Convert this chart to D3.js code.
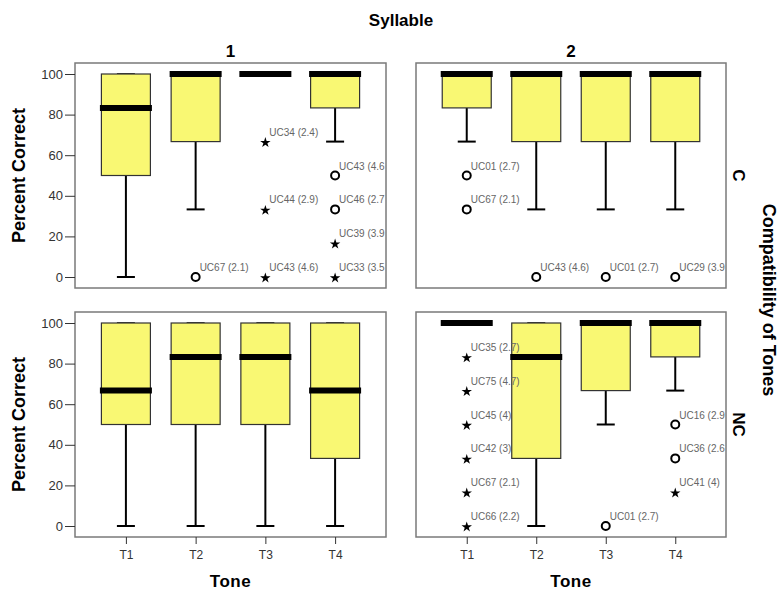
<!DOCTYPE html>
<html>
<head>
<meta charset="utf-8">
<script src="https://cdn.jsdelivr.net/npm/d3@7"></script>
<style>
  body { margin: 0; background: #fff; }
  text { font-family: Arial, "Liberation Sans", sans-serif; }
</style>
</head>
<body>
<div id="chart"></div>
<script>
// data
var tones = ["T1", "T2", "T3", "T4"]
var syllables = ["1", "2"]
var compat = ["C", "NC"]

// [low whisker, q1, median, q3, high whisker] for T1..T4
var box1C = [[0, 50, 83.3, 100, 100], [33.3, 66.7, 100, 100, 100], [100, 100, 100, 100, 100], [66.7, 83.3, 100, 100, 100]]
var box2C = [[66.7, 83.3, 100, 100, 100], [33.3, 66.7, 100, 100, 100], [33.3, 66.7, 100, 100, 100], [33.3, 66.7, 100, 100, 100]]
var box1NC = [[0, 50, 66.7, 100, 100], [0, 50, 83.3, 100, 100], [0, 50, 83.3, 100, 100], [0, 33.3, 66.7, 100, 100]]
var box2NC = [[100, 100, 100, 100, 100], [0, 33.3, 83.3, 100, 100], [50, 66.7, 100, 100, 100], [66.7, 83.3, 100, 100, 100]]

// outliers: [tone, value, label, kind]  (o = circle, * = extreme)
var out1C = [["T2", 0, "UC67 (2.1)", "o"], ["T3", 66.7, "UC34 (2.4)", "*"], ["T3", 33.3, "UC44 (2.9)", "*"],
  ["T3", 0, "UC43 (4.6)", "*"], ["T4", 50, "UC43 (4.6", "o"], ["T4", 33.3, "UC46 (2.7", "o"],
  ["T4", 16.7, "UC39 (3.9", "*"], ["T4", 0, "UC33 (3.5", "*"]]
var out2C = [["T1", 50, "UC01 (2.7)", "o"], ["T1", 33.3, "UC67 (2.1)", "o"], ["T2", 0, "UC43 (4.6)", "o"],
  ["T3", 0, "UC01 (2.7)", "o"], ["T4", 0, "UC29 (3.9", "o"]]
var out1NC = []
var out2NC = [["T1", 83.3, "UC35 (2.7)", "*"], ["T1", 66.7, "UC75 (4.7)", "*"], ["T1", 50, "UC45 (4)", "*"],
  ["T1", 33.3, "UC42 (3)", "*"], ["T1", 16.7, "UC67 (2.1)", "*"], ["T1", 0, "UC66 (2.2)", "*"],
  ["T3", 0, "UC01 (2.7)", "o"], ["T4", 50, "UC16 (2.9", "o"], ["T4", 33.3, "UC36 (2.6", "o"],
  ["T4", 16.7, "UC41 (4)", "*"]]

var yTicks = [0, 20, 40, 60, 80, 100]

var panels = [
  { row: 0, col: 0, box: box1C, out: out1C },
  { row: 0, col: 1, box: box2C, out: out2C },
  { row: 1, col: 0, box: box1NC, out: out1NC },
  { row: 1, col: 1, box: box2NC, out: out2NC }
]

var W = 779, H = 592
var colX = [[75, 386], [416, 726]]
var rowY = [[63, 288], [312, 537]]
var fill = "#f9f873"

var svg = d3.select("#chart").append("svg")
  .attr("width", W)
  .attr("height", H)

svg.append("text")
  .attr("x", 401).attr("y", 26)
  .attr("text-anchor", "middle")
  .attr("font-weight", "bold").attr("font-size", 17)
  .text("Syllable")

syllables.forEach(function (s, i) {
  svg.append("text")
    .attr("x", (colX[i][0] + colX[i][1]) / 2).attr("y", 57)
    .attr("text-anchor", "middle")
    .attr("font-weight", "bold").attr("font-size", 17)
    .text(s)
  svg.append("text")
    .attr("x", (colX[i][0] + colX[i][1]) / 2).attr("y", 587)
    .attr("text-anchor", "middle")
    .attr("font-weight", "bold").attr("font-size", 17)
    .attr("letter-spacing", 0.5)
    .text("Tone")
})

compat.forEach(function (c, j) {
  var cy = (rowY[j][0] + rowY[j][1]) / 2
  svg.append("text")
    .attr("transform", "translate(733," + cy + ") rotate(90)")
    .attr("text-anchor", "middle")
    .attr("font-weight", "bold").attr("font-size", 17)
    .text(c)
  svg.append("text")
    .attr("transform", "translate(25," + cy + ") rotate(-90)")
    .attr("text-anchor", "middle")
    .attr("font-weight", "bold").attr("font-size", 18)
    .text("Percent Correct")
})

svg.append("text")
  .attr("transform", "translate(763,300) rotate(90)")
  .attr("text-anchor", "middle")
  .attr("font-weight", "bold").attr("font-size", 18)
  .text("Compatibility of Tones")

panels.forEach(function (p, k) {
  var x0 = colX[p.col][0], x1 = colX[p.col][1]
  var y0 = rowY[p.row][0], y1 = rowY[p.row][1]

  var x = d3.scalePoint().domain(tones).range([x0, x1]).padding(0.73)
  var y = d3.scaleLinear().domain([0, 100]).range([y1 - 11, y0 + 11])

  var g = svg.append("g")

  g.append("clipPath").attr("id", "clip" + k)
    .append("rect")
    .attr("x", x0).attr("y", y0)
    .attr("width", x1 - x0).attr("height", y1 - y0)

  var inner = g.append("g").attr("clip-path", "url(#clip" + k + ")")

  tones.forEach(function (t, i) {
    var b = p.box[i]
    var cx = x(t)
    var bw = 49, cap = 18
    var gg = inner.append("g")

    // whiskers
    gg.append("line")
      .attr("x1", cx).attr("x2", cx)
      .attr("y1", y(b[0])).attr("y2", y(b[1]))
      .attr("stroke", "#000").attr("stroke-width", 2)
    gg.append("line")
      .attr("x1", cx - cap / 2).attr("x2", cx + cap / 2)
      .attr("y1", y(b[0])).attr("y2", y(b[0]))
      .attr("stroke", "#000").attr("stroke-width", 2)
    gg.append("line")
      .attr("x1", cx).attr("x2", cx)
      .attr("y1", y(b[4])).attr("y2", y(b[3]))
      .attr("stroke", "#000").attr("stroke-width", 2)
    gg.append("line")
      .attr("x1", cx - cap / 2).attr("x2", cx + cap / 2)
      .attr("y1", y(b[4])).attr("y2", y(b[4]))
      .attr("stroke", "#000").attr("stroke-width", 1.5)

    // box
    if (b[3] > b[1]) {
      gg.append("rect")
        .attr("x", cx - bw / 2).attr("y", y(b[3]))
        .attr("width", bw).attr("height", y(b[1]) - y(b[3]))
        .attr("fill", fill).attr("stroke", "#333").attr("stroke-width", 1.2)
    }
    // median
    gg.append("line")
      .attr("x1", cx - 26).attr("x2", cx + 26)
      .attr("y1", y(b[2])).attr("y2", y(b[2]))
      .attr("stroke", "#000").attr("stroke-width", 6)
  })

  // outliers, drawn over the boxes
  p.out.forEach(function (o) {
    var cx = x(o[0]), oy = y(o[1])
    if (o[3] == "o") {
      inner.append("circle")
        .attr("cx", cx).attr("cy", oy).attr("r", 4)
        .attr("fill", "#fff").attr("stroke", "#000").attr("stroke-width", 2)
    } else {
      inner.append("path")
        .attr("transform", "translate(" + cx + "," + (oy + 1) + ")")
        .attr("d", d3.symbol().type(d3.symbolStar).size(34)())
        .attr("fill", "#000")
    }
    inner.append("text")
      .attr("x", cx + 4).attr("y", oy - 6)
      .attr("font-size", 10).attr("fill", "#666")
      .text(o[2])
  })

  // frame
  g.append("rect")
    .attr("x", x0).attr("y", y0)
    .attr("width", x1 - x0).attr("height", y1 - y0)
    .attr("fill", "none").attr("stroke", "#7a7a7a").attr("stroke-width", 1.5)

  if (p.col == 0) {
    var ya = g.append("g")
      .attr("transform", "translate(" + x0 + ",0)")
      .call(d3.axisLeft(y).tickValues(yTicks).tickSize(10).tickPadding(2))
    ya.select(".domain").remove()
    ya.selectAll(".tick line").attr("stroke", "#333")
    ya.selectAll(".tick text").attr("font-size", 13).attr("fill", "#333")
      .attr("font-family", "Arial, 'Liberation Sans', sans-serif")
  }
  if (p.row == 1) {
    var xa = g.append("g")
      .attr("transform", "translate(0," + y1 + ")")
      .call(d3.axisBottom(x).tickSize(7).tickPadding(6))
    xa.select(".domain").remove()
    xa.selectAll(".tick line").attr("stroke", "#333")
    xa.selectAll(".tick text").attr("font-size", 12).attr("fill", "#333")
      .attr("font-family", "Arial, 'Liberation Sans', sans-serif")
  }
})
</script>
</body>
</html>
